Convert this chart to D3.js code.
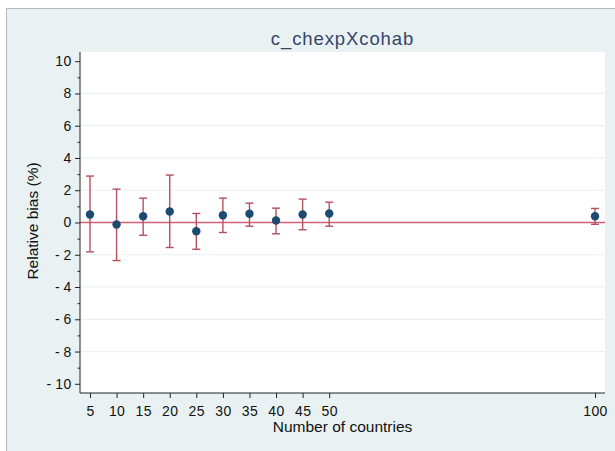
<!DOCTYPE html>
<html><head><meta charset="utf-8">
<script src="https://cdn.jsdelivr.net/npm/d3@7"></script>
<style>
html,body{margin:0;padding:0;background:#fff;}
svg{display:block;font-family:"Liberation Sans",Arial,sans-serif;}
</style></head>
<body>
<script>
const title = "c_chexpXcohab";
const xLabel = "Number of countries";
const yLabel = "Relative bias (%)";
const countries = [5, 10, 15, 20, 25, 30, 35, 40, 45, 50, 100];
const bias  = [0.50, -0.12, 0.39, 0.68, -0.54, 0.45, 0.54, 0.12, 0.50, 0.56, 0.39];
const upper = [2.88, 2.07, 1.51, 2.94, 0.56, 1.51, 1.20, 0.89, 1.45, 1.26, 0.87];
const lower = [-1.82, -2.36, -0.79, -1.55, -1.66, -0.62, -0.23, -0.70, -0.45, -0.23, -0.11];
const xTicks = [5, 10, 15, 20, 25, 30, 35, 40, 45, 50, 100];
const yTicks = [-10, -8, -6, -4, -2, 0, 2, 4, 6, 8, 10];
const yMinorTicks = [-9, -7, -5, -3, -1, 1, 3, 5, 7, 9];

const W = 615, H = 451;
const svg = d3.select("body").append("svg").attr("width", W).attr("height", H);

// outer graph region
svg.append("rect").attr("x", 6.5).attr("y", 8.5).attr("width", W).attr("height", H)
  .attr("fill", "#e9f1f3").attr("stroke", "#b4b8ba").attr("stroke-width", 1);

const L = 80, R = 605, T = 52, B = 393;
svg.append("rect").attr("x", L).attr("y", T).attr("width", R - L).attr("height", B - T).attr("fill", "#fff");

const x = d3.scaleLinear().domain([3.12, 101.88]).range([L, R]);
const y = d3.scaleLinear().domain([-10.57, 10.57]).range([B, T]);

// gridlines
svg.append("g").selectAll("line").data(yTicks.filter(d => d !== 0 && Math.abs(d) !== 10)).join("line")
  .attr("x1", L).attr("x2", R).attr("y1", d => y(d)).attr("y2", d => y(d))
  .attr("stroke", "#eaf1f2").attr("stroke-width", 1.2);

// zero line
svg.append("line").attr("x1", L).attr("x2", R).attr("y1", y(0)).attr("y2", y(0))
  .attr("stroke", "#d2607a").attr("stroke-width", 1.5);

// y axis
const yAxis = d3.axisLeft(y).tickValues(yTicks).tickSize(5).tickPadding(3)
  .tickFormat(d => d < 0 ? "-\u2009" + Math.abs(d) : String(d));
const gy = svg.append("g").attr("transform", `translate(${L},0)`).call(yAxis);
gy.select(".domain").attr("d", `M0,${T}V${B}`).attr("stroke", "#222");
gy.selectAll(".tick line").attr("stroke", "#222");
gy.selectAll("text").attr("font-size", 14).attr("letter-spacing", 0.6).attr("fill", "#111");
svg.append("g").attr("transform", `translate(${L},0)`)
  .call(d3.axisLeft(y).tickValues(yMinorTicks).tickSize(2.5).tickFormat(""))
  .call(g => g.select(".domain").remove())
  .selectAll("line").attr("stroke", "#222");

// x axis
const xAxis = d3.axisBottom(x).tickValues(xTicks).tickSize(5).tickPadding(8).tickFormat(d3.format("d"));
const gx = svg.append("g").attr("transform", `translate(0,${B})`).call(xAxis);
gx.select(".domain").attr("d", `M${L},0H${R}`).attr("stroke", "#222");
gx.selectAll(".tick line").attr("stroke", "#222");
gx.selectAll("text").attr("font-size", 14).attr("letter-spacing", 0.4).attr("fill", "#111");

// error bars
const data = countries.map((c, i) => ({c, b: bias[i], u: upper[i], l: lower[i]}));
const eb = svg.append("g").attr("stroke", "#b4505e").attr("stroke-width", 1.4).attr("fill", "none");
eb.selectAll("line.v").data(data).join("line").attr("class", "v")
  .attr("x1", d => x(d.c)).attr("x2", d => x(d.c)).attr("y1", d => y(d.u)).attr("y2", d => y(d.l));
eb.selectAll("line.u").data(data).join("line").attr("class", "u")
  .attr("x1", d => x(d.c) - 4).attr("x2", d => x(d.c) + 4).attr("y1", d => y(d.u)).attr("y2", d => y(d.u));
eb.selectAll("line.l").data(data).join("line").attr("class", "l")
  .attr("x1", d => x(d.c) - 4).attr("x2", d => x(d.c) + 4).attr("y1", d => y(d.l)).attr("y2", d => y(d.l));

// points
svg.append("g").selectAll("circle").data(data).join("circle")
  .attr("cx", d => x(d.c)).attr("cy", d => y(d.b)).attr("r", 4.2).attr("fill", "#1d4a72");

// titles
svg.append("text").attr("x", (L + R) / 2).attr("y", 45).attr("text-anchor", "middle")
  .attr("font-size", 18.5).attr("letter-spacing", 0.9).attr("fill", "#34466a").text(title);
svg.append("text").attr("x", (L + R) / 2).attr("y", 432).attr("text-anchor", "middle")
  .attr("font-size", 15.5).attr("fill", "#111").text(xLabel);
svg.append("text").attr("transform", `translate(38,${221}) rotate(-90)`).attr("text-anchor", "middle")
  .attr("font-size", 15.5).attr("fill", "#111").text(yLabel);
</script>
</body></html>
